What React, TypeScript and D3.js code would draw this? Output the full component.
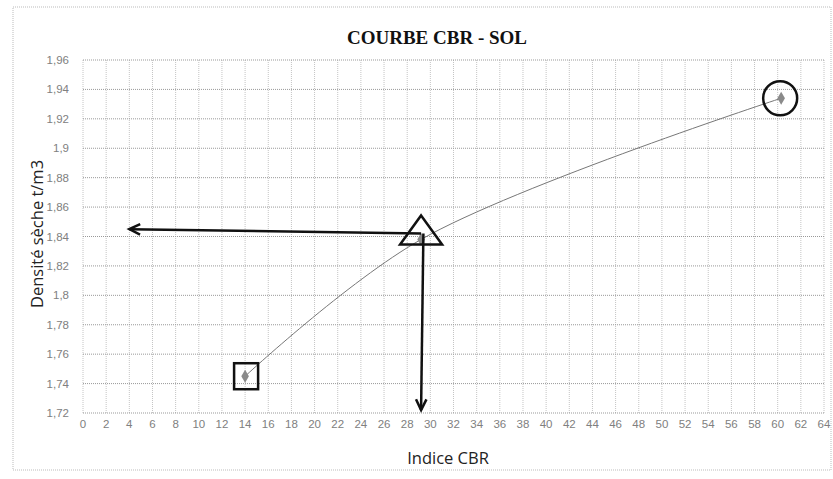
import React, { useEffect, useRef } from "react"
import * as d3 from "d3"

const cbr = [14, 29.2, 60.3]
const density = [1.745, 1.838, 1.934]
const xTicks = d3.range(0, 65, 2)
const yTicks = [1.72, 1.74, 1.76, 1.78, 1.8, 1.82, 1.84, 1.86, 1.88, 1.9, 1.92, 1.94, 1.96]

// hand-drawn reading lines (data units)
const arrowH = { from: [29.2, 1.842], to: [4, 1.845] }
const arrowV = { from: [29.4, 1.842], to: [29.2, 1.722] }

const W = 833
const H = 479

export default function App() {
  const ref = useRef<SVGSVGElement>(null)

  useEffect(() => {
    const svg = d3.select(ref.current)
    svg.selectAll("*").remove()

    const x = d3.scaleLinear().domain([0, 64]).range([83, 824])
    const y = d3.scaleLinear().domain([1.72, 1.96]).range([413, 60])

    svg
      .append("rect")
      .attr("x", 13)
      .attr("y", 7)
      .attr("width", 818)
      .attr("height", 463)
      .attr("fill", "white")
      .attr("stroke", "#bbb")
      .attr("stroke-dasharray", "1,1")

    const grid = svg.append("g")
    grid
      .selectAll("line.v")
      .data(xTicks)
      .enter()
      .append("line")
      .attr("x1", d => x(d))
      .attr("x2", d => x(d))
      .attr("y1", y(1.96))
      .attr("y2", y(1.72))
      .attr("stroke", "#c4c4c4")
      .attr("stroke-dasharray", "1,1")
    grid
      .selectAll("line.h")
      .data(yTicks)
      .enter()
      .append("line")
      .attr("x1", x(0))
      .attr("x2", x(64))
      .attr("y1", d => y(d))
      .attr("y2", d => y(d))
      .attr("stroke", "#999")
      .attr("stroke-dasharray", "1,1")

    svg
      .append("g")
      .selectAll("text")
      .data(yTicks)
      .enter()
      .append("text")
      .attr("x", x(0) - 14)
      .attr("y", d => y(d) + 4)
      .attr("text-anchor", "end")
      .attr("font-family", "Liberation Sans")
      .attr("font-size", 11.5)
      .attr("fill", "#808080")
      .text(d => String(d).replace(".", ","))

    svg
      .append("g")
      .selectAll("text")
      .data(xTicks)
      .enter()
      .append("text")
      .attr("x", d => x(d))
      .attr("y", y(1.72) + 15)
      .attr("text-anchor", "middle")
      .attr("font-family", "Liberation Sans")
      .attr("font-size", 11.5)
      .attr("fill", "#808080")
      .text(d => d)

    const pts = cbr.map((c, i) => [c, density[i]] as [number, number])
    const line = d3
      .line<[number, number]>()
      .x(d => x(d[0]))
      .y(d => y(d[1]))
      .curve(d3.curveCatmullRom.alpha(0.5))

    svg
      .append("path")
      .datum(pts)
      .attr("d", line)
      .attr("fill", "none")
      .attr("stroke", "#777")
      .attr("stroke-width", 1)

    svg
      .append("g")
      .selectAll("path")
      .data(pts)
      .enter()
      .append("path")
      .attr("transform", d => `translate(${x(d[0])},${y(d[1])})`)
      .attr("d", d3.symbol(d3.symbolDiamond, 50)())
      .attr("fill", "#8a8a8a")

    // annotations: square, triangle, circle
    const ann = svg.append("g").attr("fill", "none").attr("stroke", "#111").attr("stroke-width", 2.5)
    ann
      .append("rect")
      .attr("x", x(cbr[0]) - 11)
      .attr("y", y(density[0]) - 13)
      .attr("width", 24)
      .attr("height", 26)
    const tx = x(cbr[1])
    const ty = y(density[1])
    ann
      .append("path")
      .attr("d", `M${tx},${ty - 24}L${tx + 21},${ty + 5}L${tx - 21},${ty + 5}Z`)
    ann
      .append("circle")
      .attr("cx", x(cbr[2]) - 1)
      .attr("cy", y(density[2]))
      .attr("r", 17)

    const arrows = svg.append("g").attr("stroke", "#111").attr("stroke-width", 2.5).attr("fill", "none")
    const drawArrow = (a: { from: number[]; to: number[] }) => {
      const x1 = x(a.from[0])
      const y1 = y(a.from[1])
      const x2 = x(a.to[0])
      const y2 = y(a.to[1])
      arrows.append("line").attr("x1", x1).attr("y1", y1).attr("x2", x2).attr("y2", y2)
      const ang = Math.atan2(y2 - y1, x2 - x1)
      const len = 12
      const spread = 0.45
      const p1 = [x2 - len * Math.cos(ang - spread), y2 - len * Math.sin(ang - spread)]
      const p2 = [x2 - len * Math.cos(ang + spread), y2 - len * Math.sin(ang + spread)]
      arrows
        .append("path")
        .attr("d", `M${p1[0]},${p1[1]}L${x2},${y2}L${p2[0]},${p2[1]}`)
        .attr("stroke-linejoin", "miter")
    }
    drawArrow(arrowH)
    drawArrow(arrowV)

    svg
      .append("text")
      .attr("x", 437)
      .attr("y", 44)
      .attr("text-anchor", "middle")
      .attr("font-family", "Liberation Serif")
      .attr("font-weight", "bold")
      .attr("font-size", 19)
      .attr("fill", "#111")
      .text("COURBE CBR - SOL")

    svg
      .append("text")
      .attr("x", 448)
      .attr("y", 464)
      .attr("text-anchor", "middle")
      .attr("font-family", "Open Sans")
      .attr("font-size", 16.5)
      .attr("fill", "#222")
      .text("Indice CBR")

    svg
      .append("text")
      .attr("transform", `translate(43,234) rotate(-90)`)
      .attr("text-anchor", "middle")
      .attr("font-family", "Open Sans")
      .attr("font-size", 16.5)
      .attr("fill", "#222")
      .text("Densité sèche t/m3")
  }, [])

  return (
    <svg
      ref={ref}
      width={W}
      height={H}
      style={{ position: "absolute", left: 0, top: 0, background: "white" }}
    />
  )
}
